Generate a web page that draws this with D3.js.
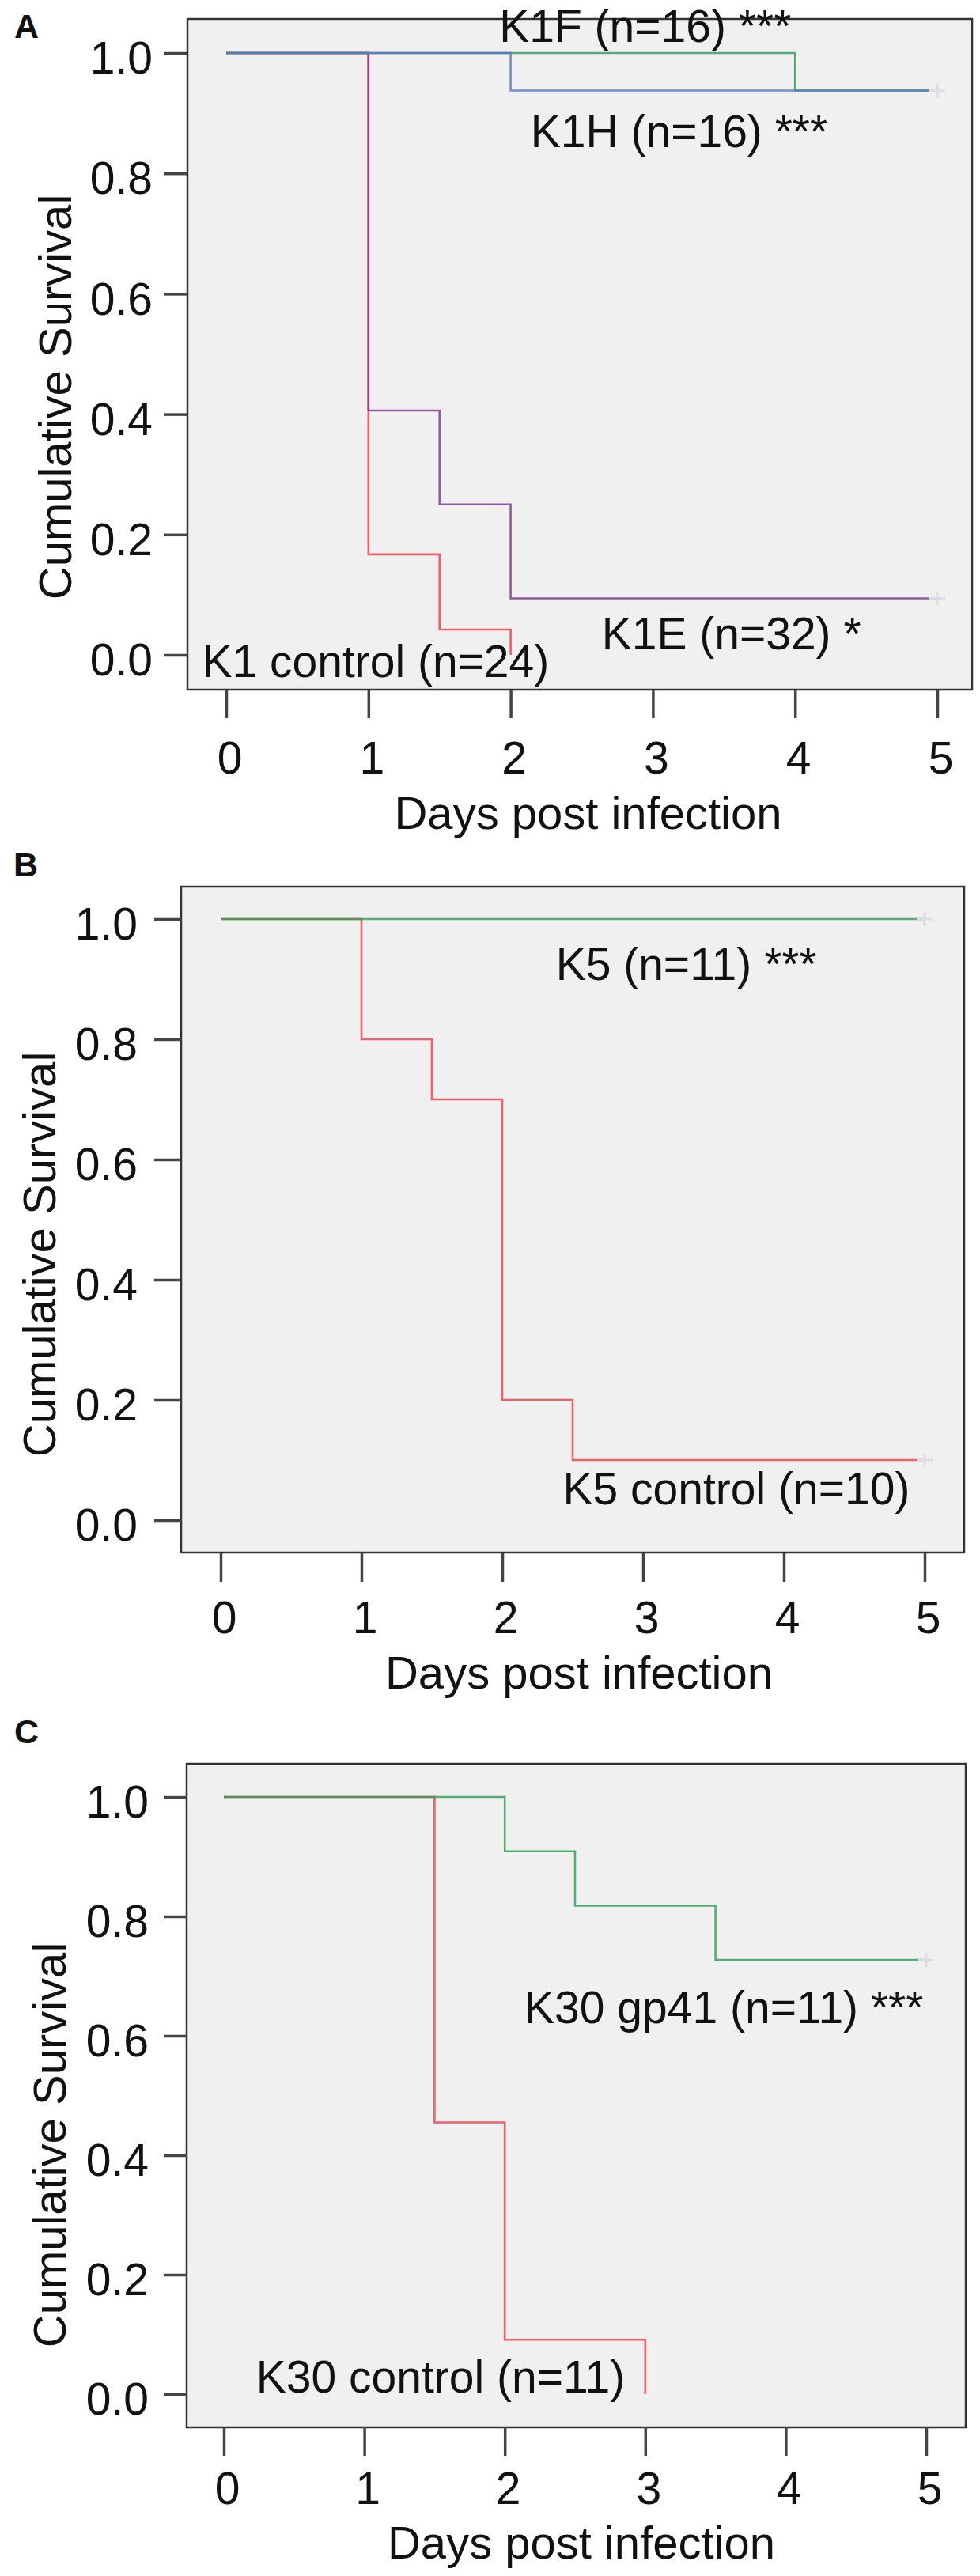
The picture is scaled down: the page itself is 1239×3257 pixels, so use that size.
<!DOCTYPE html>
<html>
<head>
<meta charset="utf-8">
<script src="https://cdn.jsdelivr.net/npm/d3@7"></script>
<style>
  body { margin: 0; background: #fff; }
  svg text { font-family: "Liberation Sans", Arial, sans-serif; fill: #111; }
</style>
</head>
<body>
<script>
// axis ticks
var dayTicks = [0, 1, 2, 3, 4, 5];
var survTicks = [0, 0.2, 0.4, 0.6, 0.8, 1.0];
var panelLetters = ["A", "B", "C"];

// panel A: K1 serotype
var k1fTime = [0, 4, 5],            k1fSurv = [1, 0.9375, 0.9375];
var k1hTime = [0, 2, 5],            k1hSurv = [1, 0.9375, 0.9375];
var k1eTime = [0, 1, 1.5, 2, 5],    k1eSurv = [1, 0.406, 0.25, 0.094, 0.094];
var k1cTime = [0, 1, 1.5, 2],       k1cSurv = [1, 0.167, 0.042, 0];

// panel B: K5 serotype
var k5Time = [0, 5],                k5Surv = [1, 1];
var k5cTime = [0, 1, 1.5, 2, 2.5, 5], k5cSurv = [1, 0.8, 0.7, 0.2, 0.1, 0.1];

// panel C: K30 serotype
var k30gTime = [0, 2, 2.5, 3.5, 5], k30gSurv = [1, 0.909, 0.818, 0.727, 0.727];
var k30cTime = [0, 1.5, 2, 3],      k30cSurv = [1, 0.455, 0.091, 0];

// curve labels, anchored in data units (day, survival)
var labelsA = ["K1F (n=16) ***", "K1H (n=16) ***", "K1E (n=32) *", "K1 control (n=24)"];
var labelDayA = [1.92, 2.14, 2.64, -0.17], labelSurvA = [1.018, 0.844, 0.009, -0.037];
var labelsB = ["K5 (n=11) ***", "K5 control (n=10)"];
var labelDayB = [2.38, 2.43], labelSurvB = [0.899, 0.026];
var labelsC = ["K30 gp41 (n=11) ***", "K30 control (n=11)"];
var labelDayC = [2.14, 0.23], labelSurvC = [0.621, 0.003];

var colors = {red: "#ee3f4b", purple: "#7a3a8c", green: "#2f9f58", blue: "#5a76c0"};

function series(time, surv, color) {
  return {pts: time.map(function(t, i){ return {t: t, s: surv[i]}; }), color: color};
}

var panels = [
  {series: [series(k1cTime, k1cSurv, colors.red), series(k1eTime, k1eSurv, colors.purple),
            series(k1fTime, k1fSurv, colors.green), series(k1hTime, k1hSurv, colors.blue)],
   labels: labelsA, lDay: labelDayA, lSurv: labelSurvA},
  {series: [series(k5cTime, k5cSurv, colors.red), series(k5Time, k5Surv, colors.green)],
   labels: labelsB, lDay: labelDayB, lSurv: labelSurvB},
  {series: [series(k30cTime, k30cSurv, colors.red), series(k30gTime, k30gSurv, colors.green)],
   labels: labelsC, lDay: labelDayC, lSurv: labelSurvC}
];

// pixel layout of each panel
var layout = [
  {box: [237, 24, 1229, 872],   xr: [286, 1185], yr: [828, 67],   letter: [18, 48],
   yTitle: [90, 502],  yTickLen: 30, yLabelRight: 193, xTickLen: 36, xLabelBase: 978,  xTitleBase: 1048},
  {box: [229, 1121, 1219, 1963], xr: [279, 1169], yr: [1922, 1162], letter: [17, 1108],
   yTitle: [70, 1586], yTickLen: 34, yLabelRight: 174, xTickLen: 37, xLabelBase: 2065, xTitleBase: 2135},
  {box: [236, 2230, 1221, 3069], xr: [283, 1171], yr: [3027, 2272], letter: [18, 2204],
   yTitle: [83, 2712], yTickLen: 29, yLabelRight: 188, xTickLen: 36, xLabelBase: 3166, xTitleBase: 3235}
];

var svg = d3.select("body").append("svg")
    .attr("width", 1239).attr("height", 3257);

panels.forEach(function(p, i) {
  var L = layout[i];
  var x = d3.scaleLinear().domain([0, 5]).range(L.xr);
  var y = d3.scaleLinear().domain([0, 1]).range(L.yr);
  var g = svg.append("g");

  // plot frame
  g.append("rect")
      .attr("x", L.box[0]).attr("y", L.box[1])
      .attr("width", L.box[2] - L.box[0]).attr("height", L.box[3] - L.box[1])
      .attr("fill", "#f0f0f0").attr("stroke", "#333").attr("stroke-width", 2.5);

  // y axis
  var ya = g.append("g").attr("transform", "translate(" + L.box[0] + ",0)")
      .call(d3.axisLeft(y).tickValues(survTicks).tickFormat(d3.format(".1f"))
              .tickSize(L.yTickLen).tickPadding(L.box[0] - L.yTickLen - L.yLabelRight));
  ya.select(".domain").remove();
  ya.selectAll(".tick line").attr("stroke", "#444").attr("stroke-width", 3.5);
  ya.selectAll(".tick text").attr("font-size", 57).attr("dy", "0.45em")
      .attr("fill", "#111").style("font-family", "'Liberation Sans', Arial, sans-serif");

  // x axis
  var xa = g.append("g").attr("transform", "translate(0," + L.box[3] + ")")
      .call(d3.axisBottom(x).tickValues(dayTicks).tickFormat(d3.format("d")).tickSize(L.xTickLen));
  xa.select(".domain").remove();
  xa.selectAll(".tick line").attr("stroke", "#444").attr("stroke-width", 3.5);
  xa.selectAll(".tick text").attr("font-size", 57).attr("y", L.xLabelBase - L.box[3]).attr("dy", 0)
      .attr("dx", 4).attr("fill", "#111").style("font-family", "'Liberation Sans', Arial, sans-serif");

  // axis titles
  g.append("text")
      .attr("x", (L.xr[0] + L.xr[1]) / 2 + 8).attr("y", L.xTitleBase)
      .attr("text-anchor", "middle").attr("font-size", 58)
      .text("Days post infection");
  g.append("text")
      .attr("transform", "translate(" + L.yTitle[0] + "," + L.yTitle[1] + ") rotate(-90)")
      .attr("text-anchor", "middle").attr("font-size", 58)
      .text("Cumulative Survival");

  // panel letter
  g.append("text")
      .attr("x", L.letter[0]).attr("y", L.letter[1])
      .attr("font-size", 43).attr("font-weight", "bold")
      .text(panelLetters[i]);

  // survival step curves
  var line = d3.line()
      .x(function(d){ return x(d.t); })
      .y(function(d){ return y(d.s); })
      .curve(d3.curveStepAfter);

  g.selectAll("path.km")
    .data(p.series)
    .enter().append("path")
      .attr("class", "km")
      .attr("d", function(d){ return line(d.pts); })
      .attr("fill", "none")
      .attr("stroke", function(d){ return d.color; })
      .attr("stroke-opacity", 0.82)
      .attr("stroke-width", 2.6);

  // censored marks at end of follow-up
  var cens = p.series.filter(function(d){ return d.pts[d.pts.length - 1].s > 0; })
      .map(function(d){ return d.pts[d.pts.length - 1]; });
  var cg = g.selectAll("g.cens")
    .data(cens)
    .enter().append("g")
      .attr("class", "cens")
      .attr("transform", function(d){ return "translate(" + x(d.t) + "," + y(d.s) + ")"; })
      .attr("stroke", "#dcdee4").attr("stroke-width", 3);
  cg.append("line").attr("x1", -10).attr("x2", 10);
  cg.append("line").attr("y1", -9).attr("y2", 9);

  // curve labels
  g.selectAll("text.lab")
    .data(p.labels)
    .enter().append("text")
      .attr("class", "lab")
      .attr("x", function(d, j){ return x(p.lDay[j]); })
      .attr("y", function(d, j){ return y(p.lSurv[j]); })
      .attr("font-size", 57)
      .text(function(d){ return d; });
});
</script>
</body>
</html>
